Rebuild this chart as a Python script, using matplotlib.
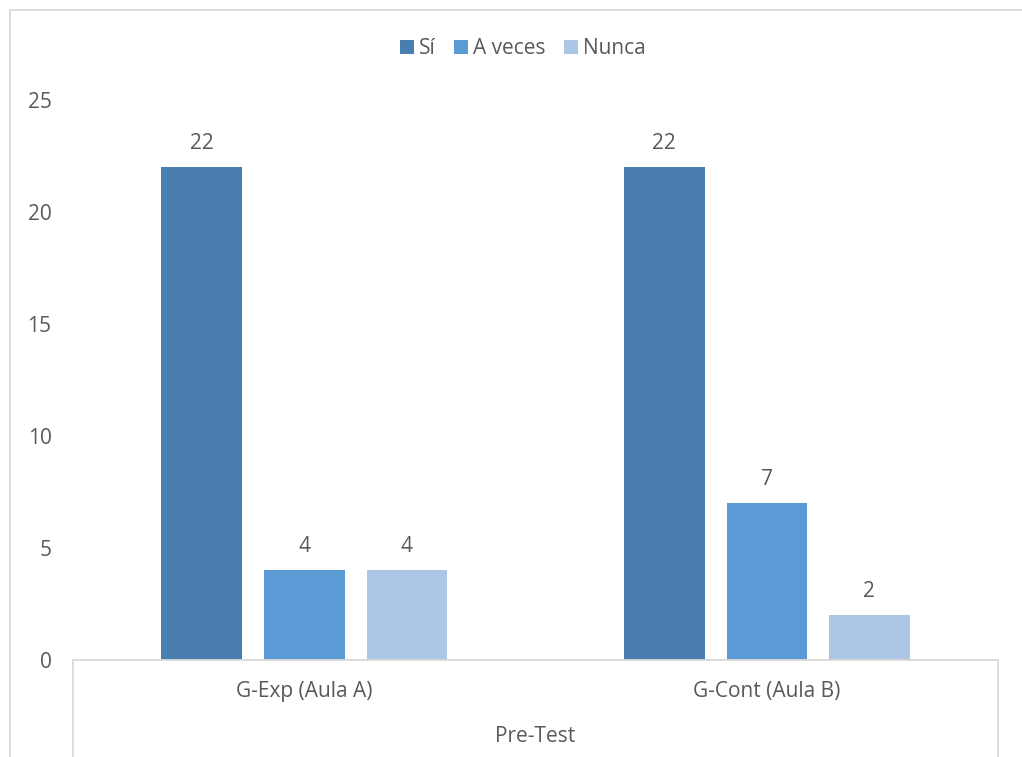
import matplotlib
matplotlib.use("Agg")
import matplotlib.pyplot as plt
import matplotlib.transforms as mtransforms
from matplotlib.lines import Line2D
import numpy as np

categories = ["G-Exp (Aula A)", "G-Cont (Aula B)"]
group_label = "Pre-Test"
series_names = ["Sí", "A veces", "Nunca"]
si = [22, 22]
a_veces = [4, 7]
nunca = [4, 2]
yticks = [0, 5, 10, 15, 20, 25]

colors = ["#4A7EB0", "#5B9BD5", "#ADC6E5"]
text_color = "#595959"
line_color = "#D9D9D9"

plt.rcParams['font.family'] = ['Open Sans', 'DejaVu Sans']
FS = 15

W, H = 1022, 757
fig = plt.figure(figsize=(W / 100, H / 100), dpi=100)

ax_l, ax_r, ax_t, ax_b = 73, 998, 100, 660
ax = fig.add_axes([ax_l / W, 1 - ax_b / H, (ax_r - ax_l) / W, (ax_b - ax_t) / H])

x = np.arange(len(categories))
bw = 80.5 / 462.5
pitch = 102.5 / 462.5
series = [si, a_veces, nunca]
for i, (name, vals) in enumerate(zip(series_names, series)):
    pos = x + (i - 1) * pitch
    bars = ax.bar(pos, vals, width=bw, color=colors[i], label=name, zorder=2)
    for b, v in zip(bars, vals):
        ax.annotate(str(v), (b.get_x() + b.get_width() / 2, v), xytext=(0, 17),
                    textcoords="offset points", ha="center", va="center",
                    fontsize=FS, color=text_color)

ax.set_xlim(-0.5, 1.5)
ax.set_ylim(0, 25)
ax.set_yticks(yticks)
ax.set_yticklabels([str(t) for t in yticks], fontsize=FS, color=text_color)
ax.tick_params(axis='y', length=0, pad=15.5)
ax.set_xticks([])
for s in ["top", "right", "left"]:
    ax.spines[s].set_visible(False)
ax.spines["bottom"].set_color(line_color)
ax.spines["bottom"].set_linewidth(1.3)

# category labels below the axis
tr = mtransforms.blended_transform_factory(ax.transData, fig.transFigure)
for xi, c in zip(x, categories):
    ax.text(xi, 1 - 692 / H, c, transform=tr, ha="center", va="center",
            fontsize=FS, color=text_color)
fig.text(((ax_l + ax_r) / 2) / W, 1 - 737 / H, group_label, ha="center", va="center",
         fontsize=FS, color=text_color)

# multi-level axis vertical lines
for px in (ax_l, ax_r):
    fig.add_artist(Line2D([px / W, px / W], [1 - ax_b / H, 0], color=line_color, lw=1.3))

# chart-area border (cropped on right and bottom)
fig.add_artist(Line2D([10 / W, 10 / W], [1 - 10 / H, 0], color=line_color, lw=1.3))
fig.add_artist(Line2D([10 / W, 1], [1 - 10 / H, 1 - 10 / H], color=line_color, lw=1.3))

leg = fig.legend(loc="center", bbox_to_anchor=(523 / W, 1 - 49 / H), ncol=3, frameon=False,
                 fontsize=FS, handlelength=0.65, handleheight=0.65, handletextpad=0.25,
                 columnspacing=0.9, labelcolor=text_color)

fig.savefig("out.png", dpi=100)
